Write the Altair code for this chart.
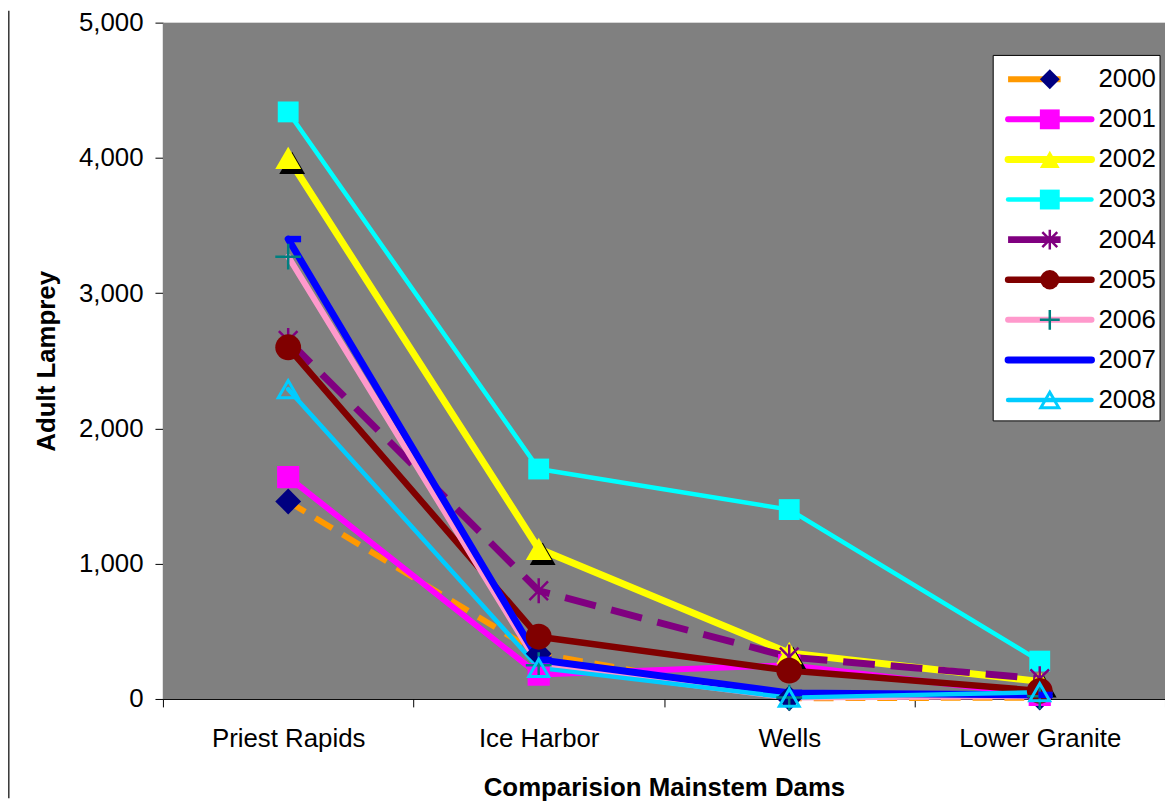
import altair as alt
import pandas as pd

# ---------------- data ----------------
dams = ["Priest Rapids", "Ice Harbor", "Wells", "Lower Granite"]
years = ["2000", "2001", "2002", "2003", "2004", "2005", "2006", "2007", "2008"]

v2000 = [1460, 335, 5, 10]
v2001 = [1640, 180, 250, 30]
v2002 = [4000, 1110, 340, 130]
v2003 = [4340, 1700, 1400, 280]
v2004 = [2650, 800, 310, 150]
v2005 = [2600, 460, 210, 60]
v2006 = [3270, 250, 10, 20]
v2007 = [3400, 290, 45, 30]
v2008 = [2290, 230, 10, 50]

series = [v2000, v2001, v2002, v2003, v2004, v2005, v2006, v2007, v2008]
y_ticks = [0, 1000, 2000, 3000, 4000, 5000]

rows = []
for yr, vals in zip(years, series):
    for d, v in zip(dams, vals):
        rows.append({"dam": d, "year": yr, "value": v})
df = pd.DataFrame(rows)

FONT = "Liberation Sans"
W, H = 1009, 681

ASTERISK = "M0,-1V1M-0.75,-0.75L0.75,0.75M-0.75,0.75L0.75,-0.75"
PLUS = "M-1,0H1M0,-1V1"
DASHBAR = "M-0.1,-0.25H1V0.25H-0.1Z"

style = {
    "2000": dict(color="#FF9900", width=6, dash=[20, 12],
                 mk=dict(shape="diamond", filled=True, color="#000080", sw=1), size=676, lsize=400),
    "2001": dict(color="#FF00FF", width=6, dash=None,
                 mk=dict(shape="square", filled=True, color="#FF00FF", sw=1), size=500, lsize=400),
    "2002": dict(color="#FFFF00", width=7, dash=None,
                 mk=dict(shape="triangle-up", filled=True, color="#FFFF00", sw=1), size=676, lsize=400),
    "2003": dict(color="#00FFFF", width=4.5, dash=None,
                 mk=dict(shape="square", filled=True, color="#00FFFF", sw=1), size=441, lsize=400),
    "2004": dict(color="#800080", width=7, dash=[32, 16],
                 mk=dict(shape=ASTERISK, filled=False, color="#800080", sw=2.5), size=625, lsize=400),
    "2005": dict(color="#800000", width=6.5, dash=None,
                 mk=dict(shape="circle", filled=True, color="#800000", sw=1), size=676, lsize=380),
    "2006": dict(color="#FF99CC", width=6, dash=None,
                 mk=dict(shape=PLUS, filled=False, color="#008080", sw=2.5), size=676, lsize=400),
    "2007": dict(color="#0000FF", width=7, dash=None,
                 mk=dict(shape=DASHBAR, filled=True, color="#0000FF", sw=1), size=676, lsize=None),
    "2008": dict(color="#00CCFF", width=4.5, dash=None,
                 mk=dict(shape="triangle-up", filled=False, color="#00CCFF", sw=3), size=400, lsize=330),
}

# ---------------- main plot ----------------
x_axis = alt.Axis(
    title="Comparision Mainstem Dams", labelAngle=0, labelFont=FONT, titleFont=FONT,
    labelFontSize=26, titleFontSize=26, titleFontWeight="bold", labelColor="black",
    titleColor="black", domainColor="black", tickColor="black", tickSize=8,
    labelPadding=19, titlePadding=23, tickBand="extent", grid=False,
)
y_axis = alt.Axis(
    title="Adult Lamprey", values=y_ticks, format=",.0f", labelFont=FONT, titleFont=FONT,
    labelFontSize=26, titleFontSize=26, titleFontWeight="bold", labelColor="black",
    titleColor="black", domainColor="black", tickColor="black", tickSize=8,
    labelPadding=12, titlePadding=19, grid=False,
)

X = alt.X("dam:N", scale=alt.Scale(type="band", domain=dams, paddingInner=0, paddingOuter=0),
          bandPosition=0.5, axis=x_axis)
Y = alt.Y("value:Q", scale=alt.Scale(domain=[0, 5000]), axis=y_axis)

line_layers = []
marker_layers = []
for yr in years:
    s = style[yr]
    base = alt.Chart(df).transform_filter(alt.datum.year == yr).encode(x=X, y=Y)
    lk = dict(color=s["color"], strokeWidth=s["width"], strokeJoin="round")
    if s["dash"]:
        lk["strokeDash"] = s["dash"]
        lk["strokeCap"] = "butt"
    else:
        lk["strokeCap"] = "round"
    line_layers.append(base.mark_line(**lk))
    m = s["mk"]
    if yr == "2002":
        marker_layers.append(base.mark_point(shape="triangle-up", filled=True, color="black",
                                             size=s["size"], opacity=1, xOffset=4, yOffset=5))
    mk_kwargs = dict(shape=m["shape"], filled=m["filled"], color=m["color"], size=s["size"],
                     opacity=1, strokeWidth=m["sw"])
    marker_layers.append(base.mark_point(**mk_kwargs))

main = alt.layer(*line_layers, *marker_layers)

one = pd.DataFrame({"k": [0]})

# plot-area background
bg = alt.Chart(one).mark_rect(fill="#808080", strokeWidth=0).encode(
    x=alt.value(0), x2=alt.value(W), y=alt.value(0), y2=alt.value(H)
)

# ---------------- legend (drawn inside the plot) ----------------
LY = alt.Y("year:N", scale=alt.Scale(type="point", domain=years, range=[57, 380], padding=0), axis=None)
lx_scale = alt.Scale(domain=[0, 1], range=[851, 935])

box = alt.Chart(one).mark_rect(fill="white", stroke="black", strokeWidth=1).encode(
    x=alt.value(836), x2=alt.value(1004), y=alt.value(33), y2=alt.value(401)
)
frame = alt.Chart(one).mark_rule(color="#333333", strokeWidth=1.5).encode(
    x=alt.value(-155.2), y=alt.value(-12), y2=alt.value(781)
)

leg_layers = []
leg_marks = []
for yr in years:
    s = style[yr]
    ld = pd.DataFrame({"year": [yr]})
    if s["dash"]:
        x0, x1, cap = 0.0, 0.63, "butt"
    else:
        x0, x1, cap = 0.0, 1.0, "round"
    leg_layers.append(
        alt.Chart(ld).mark_rule(color=s["color"], strokeWidth=s["width"], strokeCap=cap).encode(
            x=alt.XDatum(x0, type="quantitative", scale=lx_scale, axis=None),
            x2=alt.X2Datum(x1),
            y=LY,
        )
    )
    if s["lsize"]:
        m = s["mk"]
        leg_marks.append(
            alt.Chart(ld).mark_point(shape=m["shape"], filled=m["filled"], color=m["color"],
                                     size=s["lsize"], opacity=1, strokeWidth=m["sw"]).encode(
                x=alt.XDatum(0.5, type="quantitative", scale=lx_scale, axis=None),
                y=LY,
            )
        )

leg_text = alt.Chart(pd.DataFrame({"year": years})).mark_text(
    align="left", baseline="middle", fontSize=26, font=FONT, color="black", dx=7
).encode(
    x=alt.XDatum(1, type="quantitative", scale=lx_scale, axis=None),
    y=LY,
    text="year:N",
)

legend = alt.layer(box, *leg_layers, *leg_marks, leg_text, frame)

chart = (
    alt.layer(bg, main, legend)
    .resolve_scale(x="independent", y="independent")
    .properties(
        width=W,
        height=H,
        padding={"left": 156, "top": 12, "right": 0, "bottom": 100},
        autosize=alt.AutoSizeParams(type="none"),
        background="white",
    )
    .configure_view(fill="#808080", strokeWidth=0)
    .configure(font=FONT)
)

chart.save("out.html", embed_options={"renderer": "svg", "actions": False})
